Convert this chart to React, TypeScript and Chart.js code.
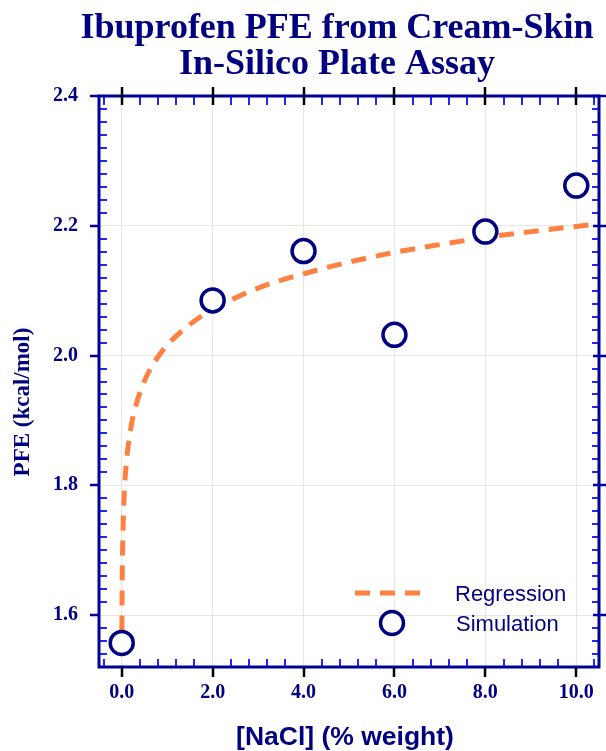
import { useEffect, useRef } from "react";
import { Chart, registerables } from "chart.js";

Chart.register(...registerables);

// ---- data ----
const simulationX = [0, 2, 4, 6, 8, 10];
const simulationY = [1.557, 2.085, 2.161, 2.032, 2.191, 2.262];

const regressionX = [0.0015, 0.002, 0.005, 0.01, 0.02, 0.05, 0.1, 0.2, 0.3, 0.5, 0.75, 1, 1.5, 2, 3, 4, 5, 6, 7, 8, 9, 10, 10.5];
const regressionY = [1.499, 1.521, 1.594, 1.649, 1.705, 1.778, 1.833, 1.888, 1.92, 1.961, 1.993, 2.016, 2.048, 2.071, 2.104, 2.126, 2.144, 2.159, 2.171, 2.182, 2.191, 2.199, 2.203];

const xTickValues = [0, 2, 4, 6, 8, 10];
const xTickLabels = ["0.0", "2.0", "4.0", "6.0", "8.0", "10.0"];
const yTickValues = [1.6, 1.8, 2.0, 2.2, 2.4];
const yTickLabels = ["1.6", "1.8", "2.0", "2.2", "2.4"];

const titleLines = ["Ibuprofen PFE from Cream-Skin", "In-Silico Plate Assay"];
const xAxisTitle = "[NaCl] (% weight)";
const yAxisTitle = "PFE (kcal/mol)";
const legendLabels = ["Regression", "Simulation"];

const X_MIN = -0.5;
const X_MAX = 10.5;
const Y_MIN = 1.52;
const Y_MAX = 2.4;
const X_MINOR_STEP = 0.4;
const Y_MINOR_STEP = 0.02;

const NAVY = "#000080";
const AXIS = "#00009a";
const MINOR = "#2424ff";
const ORANGE = "#ff8040";

const decor = {
  id: "decor",
  afterDraw(chart: any) {
    const { ctx, chartArea: a, scales } = chart;
    const x = scales.x;
    const y = scales.y;
    ctx.save();

    // minor ticks (inside)
    ctx.strokeStyle = MINOR;
    ctx.lineWidth = 2;
    ctx.beginPath();
    for (let i = -2; i * X_MINOR_STEP <= X_MAX; i++) {
      const v = i * X_MINOR_STEP;
      if (v < X_MIN) continue;
      if (Math.abs(v / 2 - Math.round(v / 2)) < 1e-6) continue;
      const px = Math.round(x.getPixelForValue(v));
      ctx.moveTo(px, a.top);
      ctx.lineTo(px, a.top + 9);
      ctx.moveTo(px, a.bottom);
      ctx.lineTo(px, a.bottom - 8);
    }
    for (let i = Math.ceil(Y_MIN / Y_MINOR_STEP); i * Y_MINOR_STEP <= Y_MAX + 1e-9; i++) {
      const v = i * Y_MINOR_STEP;
      if (Math.abs(v / 0.2 - Math.round(v / 0.2)) < 1e-6) continue;
      const py = Math.round(y.getPixelForValue(v));
      if (py > a.bottom - 3) continue;
      ctx.moveTo(a.left, py);
      ctx.lineTo(a.left + 8, py);
      ctx.moveTo(a.right, py);
      ctx.lineTo(a.right - 7, py);
    }
    ctx.stroke();

    // frame
    ctx.strokeStyle = AXIS;
    ctx.lineWidth = 3;
    ctx.strokeRect(a.left, a.top, a.right - a.left, a.bottom - a.top);

    // major x ticks (black)
    ctx.strokeStyle = "#000";
    ctx.lineWidth = 2.5;
    ctx.beginPath();
    xTickValues.forEach((v) => {
      const px = Math.round(x.getPixelForValue(v));
      ctx.moveTo(px, a.top - 9);
      ctx.lineTo(px, a.top + 9);
      ctx.moveTo(px, a.bottom);
      ctx.lineTo(px, a.bottom + 10);
    });
    ctx.stroke();

    // major y ticks (navy)
    ctx.strokeStyle = AXIS;
    ctx.lineWidth = 2.5;
    ctx.beginPath();
    yTickValues.forEach((v) => {
      const py = Math.round(y.getPixelForValue(v));
      ctx.moveTo(a.left - 9, py);
      ctx.lineTo(a.left, py);
      ctx.moveTo(a.right - 6, py);
      ctx.lineTo(a.right + 8, py);
    });
    ctx.stroke();

    // title
    ctx.fillStyle = NAVY;
    ctx.textAlign = "center";
    ctx.textBaseline = "alphabetic";
    ctx.font = 'bold 36px "Liberation Serif", "Times New Roman", serif';
    ctx.fillText(titleLines[0], 337, 38);
    ctx.fillText(titleLines[1], 337, 74);

    // x axis title
    ctx.font = 'bold 26.5px "Liberation Sans", Arial, sans-serif';
    ctx.fillText(xAxisTitle, 345, 745);

    // y axis title
    ctx.save();
    ctx.translate(23, 402);
    ctx.rotate(-Math.PI / 2);
    ctx.textBaseline = "middle";
    ctx.font = 'bold 23px "Liberation Serif", "Times New Roman", serif';
    ctx.fillText(yAxisTitle, 0, 0);
    ctx.restore();

    // legend
    ctx.strokeStyle = ORANGE;
    ctx.lineWidth = 5;
    ctx.setLineDash([15, 10]);
    ctx.beginPath();
    ctx.moveTo(355, 593);
    ctx.lineTo(421, 593);
    ctx.stroke();
    ctx.setLineDash([]);

    ctx.beginPath();
    ctx.arc(392, 623, 11.5, 0, Math.PI * 2);
    ctx.fillStyle = "#fff";
    ctx.fill();
    ctx.strokeStyle = NAVY;
    ctx.lineWidth = 3.5;
    ctx.stroke();

    ctx.fillStyle = NAVY;
    ctx.textAlign = "left";
    ctx.font = '22px "Liberation Sans", Arial, sans-serif';
    ctx.fillText(legendLabels[0], 455, 601);
    ctx.fillText(legendLabels[1], 456, 631);

    ctx.restore();
  },
};

export default function App() {
  const ref = useRef<HTMLCanvasElement>(null);

  useEffect(() => {
    document.body.style.margin = "0";
    const canvas = ref.current;
    if (!canvas) return;
    const tickFont = { family: '"Liberation Serif", "Times New Roman", serif', size: 20, weight: "bold" as const };
    const chart = new Chart(canvas, {
      type: "scatter",
      data: {
        datasets: [
          {
            label: legendLabels[1],
            data: simulationX.map((v, i) => ({ x: v, y: simulationY[i] })),
            pointStyle: "circle",
            pointRadius: 11.5,
            pointHoverRadius: 11.5,
            pointBorderWidth: 3.5,
            pointBorderColor: NAVY,
            pointBackgroundColor: "#ffffff",
            borderColor: NAVY,
            backgroundColor: "#ffffff",
            order: 0,
            clip: false,
          } as any,
          {
            label: legendLabels[0],
            data: regressionX.map((v, i) => ({ x: v, y: regressionY[i] })),
            showLine: true,
            borderColor: ORANGE,
            borderWidth: 5,
            borderDash: [15, 10],
            pointRadius: 0,
            pointHoverRadius: 0,
            fill: false,
            cubicInterpolationMode: "monotone",
            order: 1,
          } as any,
        ],
      },
      options: {
        responsive: false,
        animation: false,
        devicePixelRatio: 1,
        events: [],
        layout: { autoPadding: false, padding: { top: 96, right: 7, left: 0, bottom: 0 } },
        plugins: {
          legend: { display: false },
          title: { display: false },
          tooltip: { enabled: false },
        },
        scales: {
          x: {
            type: "linear",
            min: X_MIN,
            max: X_MAX,
            afterBuildTicks: (s: any) => {
              s.ticks = xTickValues.map((v) => ({ value: v }));
            },
            afterFit: (s: any) => {
              s.height = 84;
              s.paddingLeft = 0;
              s.paddingRight = 0;
              s.paddingTop = 0;
              s.paddingBottom = 0;
            },
            ticks: {
              callback: (_v: any, i: number) => xTickLabels[i],
              font: tickFont,
              color: NAVY,
              padding: 14,
              maxRotation: 0,
              autoSkip: false,
            },
            grid: { color: "#e6e6e6", lineWidth: 1, drawTicks: false },
            border: { display: false },
          },
          y: {
            type: "linear",
            min: Y_MIN,
            max: Y_MAX,
            afterBuildTicks: (s: any) => {
              s.ticks = yTickValues.map((v) => ({ value: v }));
            },
            afterFit: (s: any) => {
              s.width = 99;
              s.paddingLeft = 0;
              s.paddingRight = 0;
              s.paddingTop = 0;
              s.paddingBottom = 0;
            },
            ticks: {
              callback: (_v: any, i: number) => yTickLabels[i],
              font: tickFont,
              color: NAVY,
              padding: 21,
              autoSkip: false,
            },
            grid: { color: "#e6e6e6", lineWidth: 1, drawTicks: false },
            border: { display: false },
          },
        },
      } as any,
      plugins: [decor],
    });
    return () => chart.destroy();
  }, []);

  return <canvas ref={ref} width={606} height={751} style={{ display: "block" }} />;
}
